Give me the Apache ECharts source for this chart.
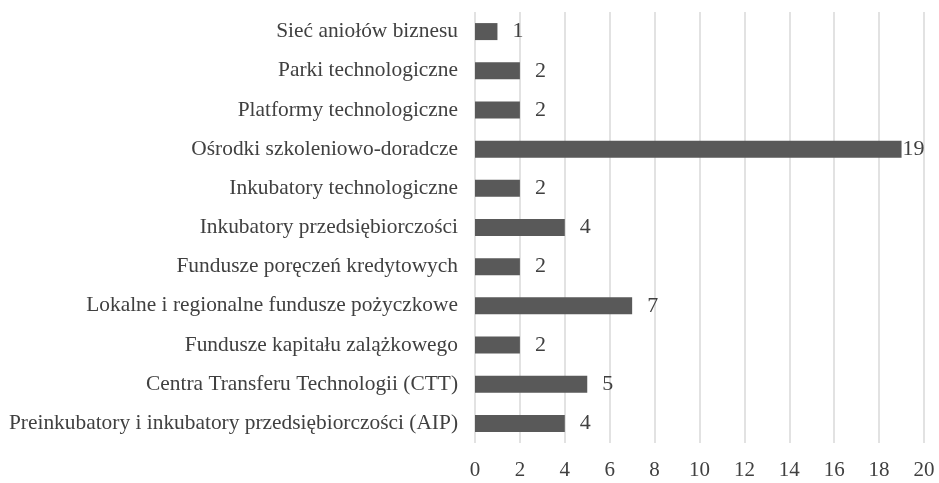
<!DOCTYPE html>
<html><head><meta charset="utf-8">
<script src="https://cdn.jsdelivr.net/npm/echarts@6/dist/echarts.min.js"></script>
<style>html,body{margin:0;padding:0;background:#fff}#c{width:939px;height:483px}</style>
</head><body><div id="c"></div>
<script>
const categories = [
  "Preinkubatory i inkubatory przedsiębiorczości (AIP)",
  "Centra Transferu Technologii (CTT)",
  "Fundusze kapitału zalążkowego",
  "Lokalne i regionalne fundusze pożyczkowe",
  "Fundusze poręczeń kredytowych",
  "Inkubatory przedsiębiorczości",
  "Inkubatory technologiczne",
  "Ośrodki szkoleniowo-doradcze",
  "Platformy technologiczne",
  "Parki technologiczne",
  "Sieć aniołów biznesu"
];
const values = [4, 5, 2, 7, 2, 4, 2, 19, 2, 2, 1];
const xTicks = [0, 2, 4, 6, 8, 10, 12, 14, 16, 18, 20];

const font = "'Liberation Serif', 'Times New Roman', serif";
const textColor = '#404040';
const chart = echarts.init(document.getElementById('c'), null, {renderer: 'canvas'});
chart.setOption({
  animation: false,
  grid: {left: 475, right: 15, top: 12, bottom: 40, containLabel: false},
  xAxis: {
    type: 'value', min: xTicks[0], max: xTicks[xTicks.length - 1], interval: 2,
    axisLine: {show: false}, axisTick: {show: false},
    splitLine: {show: true, lineStyle: {color: '#d9d9d9', width: 1.5}},
    axisLabel: {color: textColor, fontFamily: font, fontSize: 21, margin: 17}
  },
  yAxis: {
    type: 'category', data: categories,
    axisLine: {show: false}, axisTick: {show: false},
    axisLabel: {color: textColor, fontFamily: font, fontSize: 21.4, margin: 17}
  },
  series: [{
    type: 'bar', barWidth: 17,
    data: values.map(v => ({value: v, label: {distance: v >= 19 ? 1 : 15}})),
    itemStyle: {color: '#595959'},
    label: {show: true, position: 'right', color: textColor, fontFamily: font, fontSize: 22}
  }]
});
</script></body></html>
